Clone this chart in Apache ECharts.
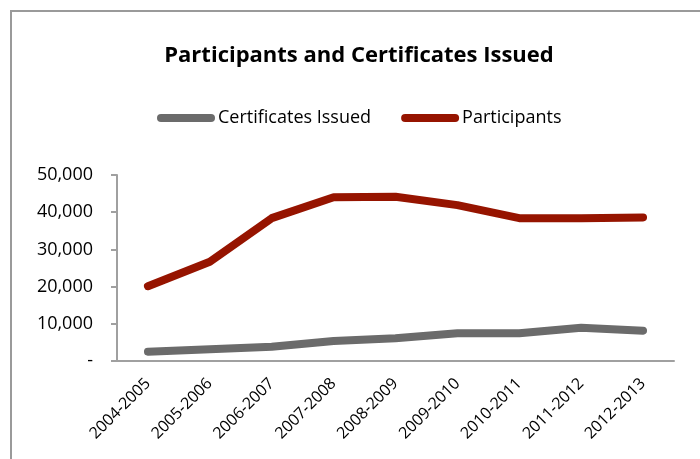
<!DOCTYPE html>
<html>
<head>
<meta charset="utf-8">
<script src="https://cdn.jsdelivr.net/npm/echarts@6/dist/echarts.min.js"></script>
<style>
  html, body { margin: 0; padding: 0; background: #fff; }
  #chart { width: 700px; height: 459px; }
</style>
</head>
<body>
<div id="chart"></div>
<script>
// School years on the category axis
const years = ['2004-2005', '2005-2006', '2006-2007', '2007-2008', '2008-2009',
               '2009-2010', '2010-2011', '2011-2012', '2012-2013'];

// Yearly totals
const certificatesIssued = [2500, 3150, 3850, 5400, 6100, 7450, 7450, 8950, 8150];
const participants = [20100, 26700, 38400, 44000, 44150, 41900, 38400, 38400, 38600];

// Value axis ticks
const yTicks = [0, 10000, 20000, 30000, 40000, 50000];

const FONT = '"Open Sans", "Noto Sans", sans-serif';
const GREY = '#6b6b6b';
const RED = '#961400';
const pill = 'path://M4,0 L54,0 A4,4 0 0 1 54,8 L4,8 A4,4 0 0 1 4,0 Z';

const chart = echarts.init(document.getElementById('chart'), null, { renderer: 'canvas' });

chart.setOption({
  animation: false,
  backgroundColor: '#ffffff',
  graphic: [{
    type: 'rect',
    shape: { x: 11, y: 11, width: 900, height: 900 },
    style: { fill: 'none', stroke: '#9a9a9a', lineWidth: 2 },
    silent: true
  }],
  title: {
    text: 'Participants and Certificates Issued',
    left: 354,
    textAlign: 'center',
    top: 40,
    textStyle: { fontFamily: FONT, fontSize: 22, fontWeight: 'bold', color: '#000' }
  },
  legend: {
    left: 152,
    top: 104,
    itemWidth: 60,
    itemHeight: 8,
    itemGap: 30,
    data: [
      { name: 'Certificates Issued', icon: pill },
      { name: 'Participants', icon: pill }
    ],
    textStyle: { fontFamily: FONT, fontSize: 18, color: '#000', padding: [0, 0, 0, -3] }
  },
  grid: { left: 117, right: 26, top: 175, bottom: 98, containLabel: false },
  xAxis: {
    type: 'category',
    data: years,
    boundaryGap: true,
    axisLine: { lineStyle: { color: '#a0a0a0', width: 2 } },
    axisTick: { show: false },
    axisLabel: {
      rotate: 45,
      interval: 0,
      margin: 20,
      color: '#000',
      fontFamily: FONT,
      fontSize: 16
    }
  },
  yAxis: {
    type: 'value',
    min: yTicks[0],
    max: yTicks[yTicks.length - 1],
    interval: yTicks[1] - yTicks[0],
    splitLine: { show: false },
    axisLine: { show: true, lineStyle: { color: '#a0a0a0', width: 2 } },
    axisTick: { show: true, inside: false, length: 6, lineStyle: { color: '#a0a0a0', width: 2 } },
    axisLabel: {
      margin: 24,
      color: '#000',
      fontFamily: FONT,
      fontSize: 18,
      formatter: v => v === 0 ? '-' : v.toLocaleString('en-US')
    }
  },
  series: [
    {
      name: 'Certificates Issued',
      type: 'line',
      data: certificatesIssued,
      showSymbol: false,
      symbol: 'none',
      color: GREY,
      lineStyle: { color: GREY, width: 8, cap: 'round', join: 'round' }
    },
    {
      name: 'Participants',
      type: 'line',
      data: participants,
      showSymbol: false,
      symbol: 'none',
      color: RED,
      lineStyle: { color: RED, width: 8, cap: 'round', join: 'round' }
    }
  ]
});
</script>
</body>
</html>
